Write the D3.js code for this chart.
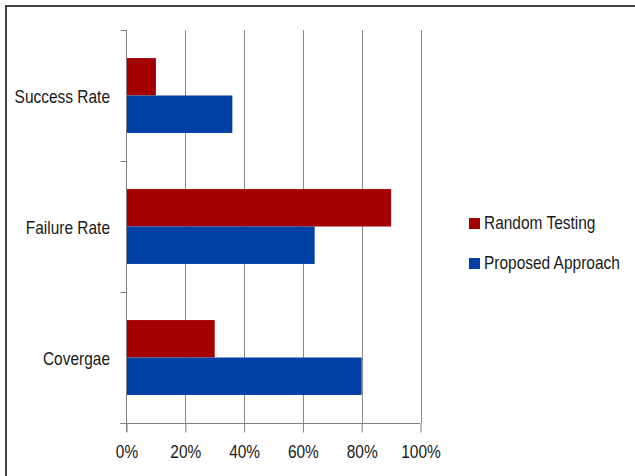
<!DOCTYPE html>
<html>
<head>
<meta charset="utf-8">
<script src="https://cdn.jsdelivr.net/npm/d3@7"></script>
<style>
  html, body { margin: 0; padding: 0; background: #fff; }
  svg { display: block; }
  text { font-family: "Liberation Sans", Arial, sans-serif; fill: #1a1a1a; }
</style>
</head>
<body>
<svg id="chart" width="635" height="476"></svg>
<script>
const categories = ["Success Rate", "Failure Rate", "Covergae"];
const seriesNames = ["Random Testing", "Proposed Approach"];
const randomTesting = [0.10, 0.90, 0.30];
const proposedApproach = [0.36, 0.64, 0.80];
const tickValues = [0, 0.2, 0.4, 0.6, 0.8, 1.0];
const colors = ["#A50000", "#003FA3"];

const svg = d3.select("#chart");
const narrow = 0.86; // horizontal squeeze to mimic a condensed (Calibri-like) face

// outer frame
svg.append("rect")
  .attr("x", 6).attr("y", 6)
  .attr("width", 640).attr("height", 480)
  .attr("fill", "none").attr("stroke", "#444").attr("stroke-width", 2);

const plotLeft = 126.5, plotRight = 420.5, plotTop = 30, plotBottom = 423;
const x = d3.scaleLinear().domain([0, 1]).range([plotLeft, plotRight]);
const y = d3.scaleBand().domain(categories).range([plotTop, plotBottom]).paddingInner(0).paddingOuter(0);
const bw = y.bandwidth();
const barH = bw / 3.5;
const inner = d3.scaleBand().domain(seriesNames)
  .range([bw / 2 - barH, bw / 2 + barH]);

// gridlines
svg.append("g").selectAll("line")
  .data(tickValues.slice(1))
  .join("line")
  .attr("x1", d => Math.round(x(d)) + 0.5).attr("x2", d => Math.round(x(d)) + 0.5)
  .attr("y1", plotTop).attr("y2", plotBottom)
  .attr("stroke", "#8a8a8a").attr("stroke-width", 1);

// bars
const data = categories.map((c, i) => ({
  cat: c,
  vals: [
    { s: seriesNames[0], v: randomTesting[i], c: colors[0] },
    { s: seriesNames[1], v: proposedApproach[i], c: colors[1] }
  ]
}));

const groups = svg.append("g").selectAll("g")
  .data(data).join("g")
  .attr("transform", d => `translate(0,${y(d.cat)})`);

groups.selectAll("rect")
  .data(d => d.vals).join("rect")
  .attr("x", x(0))
  .attr("y", d => inner(d.s))
  .attr("width", d => x(d.v) - x(0))
  .attr("height", inner.bandwidth())
  .attr("fill", d => d.c);

// left (category) axis
const yEdges = categories.map(c => y(c)).concat([plotBottom]);
const axisG = svg.append("g");
axisG.append("line")
  .attr("x1", plotLeft).attr("x2", plotLeft)
  .attr("y1", plotTop).attr("y2", plotBottom + 9)
  .attr("stroke", "#808080");
axisG.selectAll("line.tk").data(yEdges).join("line")
  .attr("class", "tk")
  .attr("x1", plotLeft - 6).attr("x2", plotLeft)
  .attr("y1", d => Math.round(d) + 0.5).attr("y2", d => Math.round(d) + 0.5)
  .attr("stroke", "#808080");

// category labels
svg.append("g").selectAll("text")
  .data(categories).join("text")
  .attr("transform", d => `translate(110,${y(d) + bw / 2 + 7}) scale(${narrow},1)`)
  .attr("text-anchor", "end")
  .attr("font-size", 18)
  .text(d => d);

// bottom axis
const xAxis = d3.axisBottom(x)
  .tickValues(tickValues)
  .tickSize(9)
  .tickSizeOuter(0)
  .tickFormat(d3.format(".0%"));
const bx = svg.append("g")
  .attr("transform", `translate(0,${Math.round(plotBottom) + 0.5})`)
  .call(xAxis);
bx.select(".domain").remove();
bx.append("line")
  .attr("x1", plotLeft - 6).attr("x2", plotRight)
  .attr("y1", 0).attr("y2", 0)
  .attr("stroke", "#808080");
bx.selectAll(".tick line").attr("stroke", "#808080");
bx.selectAll(".tick text")
  .attr("y", null).attr("dy", null)
  .attr("transform", `translate(0,34) scale(${narrow},1)`)
  .attr("font-size", 18)
  .style("font-family", '"Liberation Sans", Arial, sans-serif')
  .attr("fill", "#1a1a1a");

// legend
const legend = svg.append("g");
const legY = [218, 258];
seriesNames.forEach((s, i) => {
  legend.append("rect")
    .attr("x", 469).attr("y", legY[i])
    .attr("width", 11).attr("height", 11)
    .attr("fill", colors[i]);
  legend.append("text")
    .attr("transform", `translate(484,${legY[i] + 11}) scale(${narrow},1)`)
    .attr("font-size", 18)
    .text(s);
});
</script>
</body>
</html>
